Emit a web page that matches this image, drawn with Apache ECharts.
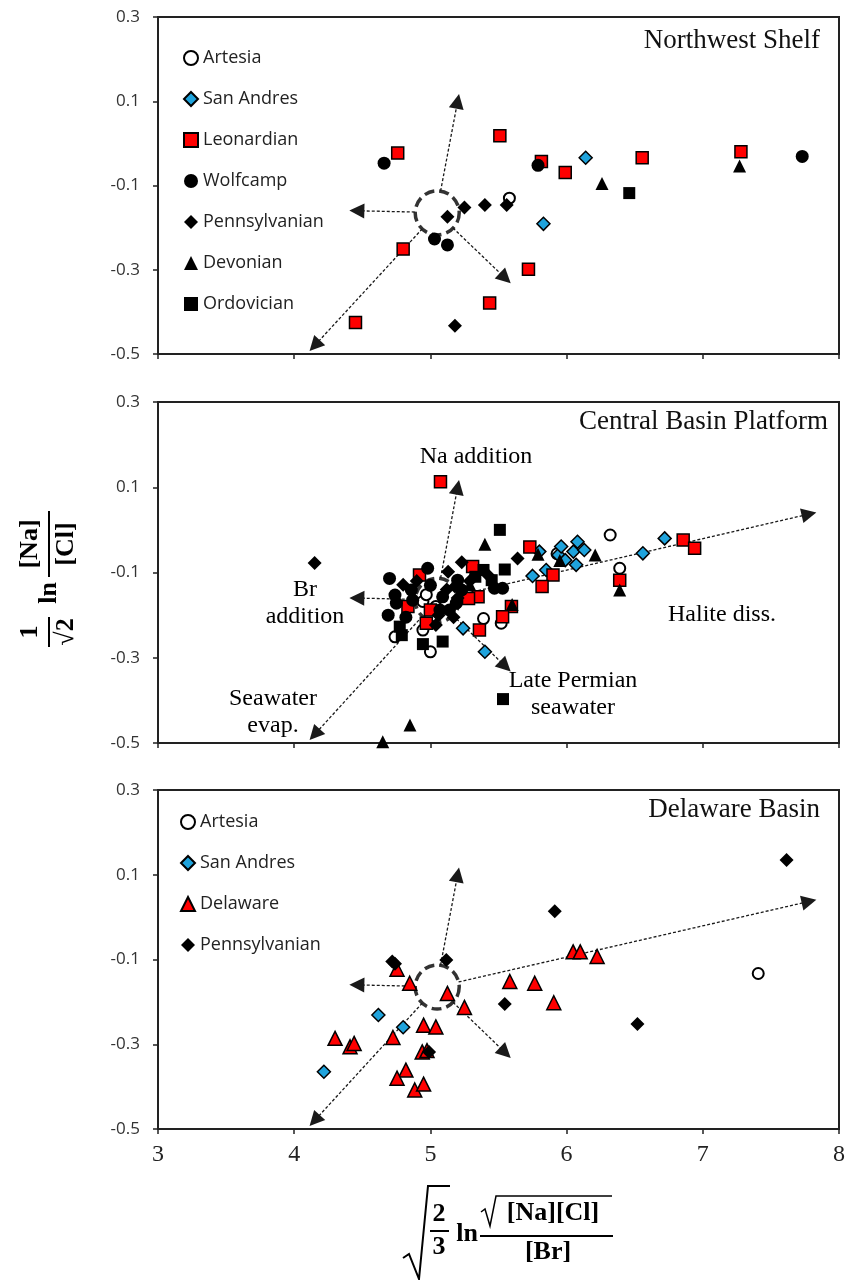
<!DOCTYPE html>
<html>
<head>
<meta charset="utf-8">
<script src="https://cdn.jsdelivr.net/npm/echarts@6.0.0/dist/echarts.min.js"></script>
<style>
  html, body { margin: 0; padding: 0; background: #fff; }
  #chart { width: 857px; height: 1280px; }
</style>
</head>
<body>
<div id="chart"></div>
<script>
// Northwest Shelf
const nwArtesia = [[5.58, -0.13]]
const nwSanAndres = [[6.14, -0.034], [5.83, -0.191]]
const nwLeonardian = [[4.76, -0.023], [5.51, 0.018], [5.815, -0.043], [5.99, -0.069], [6.555, -0.034], [7.28, -0.02], [4.80, -0.251], [5.72, -0.299], [5.435, -0.379], [4.45, -0.425]]
const nwWolfcamp = [[4.66, -0.047], [5.79, -0.052], [5.03, -0.227], [5.125, -0.241], [7.73, -0.031]]
const nwPennsylvanian = [[5.125, -0.174], [5.25, -0.152], [5.40, -0.146], [5.56, -0.146], [5.18, -0.433]]
const nwDevonian = [[6.26, -0.095], [7.27, -0.054]]
const nwOrdovician = [[6.46, -0.118]]

// Central Basin Platform
const cbArtesia = [[4.74, -0.251], [4.945, -0.235], [5.0, -0.286], [4.945, -0.168], [4.97, -0.152], [5.39, -0.208], [5.52, -0.219], [5.93, -0.056], [6.32, -0.012], [6.39, -0.09], [5.04, -0.18]]
const cbSanAndres = [[5.24, -0.231], [5.40, -0.286], [5.75, -0.108], [5.85, -0.094], [5.80, -0.051], [5.94, -0.059], [5.96, -0.039], [5.99, -0.071], [6.05, -0.051], [6.08, -0.028], [6.13, -0.047], [6.07, -0.082], [6.56, -0.055], [6.72, -0.02]]
const cbLeonardian = [[5.074, 0.113], [4.92, -0.106], [4.835, -0.18], [5.0, -0.188], [4.97, -0.219], [5.31, -0.086], [5.35, -0.157], [5.28, -0.161], [5.36, -0.235], [5.595, -0.18], [5.53, -0.204], [5.73, -0.04], [5.90, -0.106], [5.82, -0.133], [6.39, -0.118], [6.856, -0.024], [6.94, -0.043]]
const cbWolfcamp = [[4.70, -0.114], [4.98, -0.09], [4.74, -0.153], [4.75, -0.172], [4.69, -0.2], [4.86, -0.141], [4.87, -0.165], [5.09, -0.157], [5.07, -0.188], [5.14, -0.188], [5.2, -0.118], [5.23, -0.141], [5.47, -0.137], [5.53, -0.137], [5.19, -0.172], [4.82, -0.205], [5.0, -0.13]]
const cbPennsylvanian = [[4.15, -0.078], [4.80, -0.129], [5.13, -0.098], [5.23, -0.076], [5.29, -0.12], [5.18, -0.133], [5.04, -0.223], [5.06, -0.2], [5.64, -0.067], [5.2, -0.16], [4.9, -0.12], [5.12, -0.14], [5.42, -0.105], [5.17, -0.205]]
const cbDevonian = [[5.40, -0.034], [5.29, -0.129], [5.79, -0.057], [5.95, -0.072], [6.21, -0.059], [6.39, -0.141], [5.6, -0.175], [4.85, -0.458], [4.65, -0.497]]
const cbOrdovician = [[5.51, 0.0], [5.39, -0.094], [5.546, -0.093], [5.45, -0.118], [5.33, -0.11], [4.775, -0.227], [4.79, -0.247], [4.945, -0.268], [5.09, -0.262], [5.533, -0.397]]

// Delaware Basin
const dbArtesia = [[7.407, -0.133]]
const dbSanAndres = [[4.618, -0.231], [4.80, -0.26], [4.218, -0.365]]
const dbDelaware = [[4.755, -0.123], [4.848, -0.156], [5.125, -0.18], [5.25, -0.213], [4.95, -0.255], [5.04, -0.259], [4.725, -0.284], [4.30, -0.286], [4.41, -0.306], [4.44, -0.298], [4.94, -0.318], [4.975, -0.315], [4.82, -0.361], [4.755, -0.38], [4.885, -0.408], [4.95, -0.394], [6.048, -0.082], [6.10, -0.082], [6.224, -0.093], [5.583, -0.152], [5.766, -0.156], [5.906, -0.202]]
const dbPennsylvanian = [[4.72, -0.105], [4.74, -0.11], [5.117, -0.101], [4.99, -0.318], [5.913, 0.014], [7.615, 0.135], [5.546, -0.205], [6.52, -0.252]]

// reference point (dashed circle) and process arrows, data units
const refPoint = [5.05, -0.165]
const arrowsBasic = [
  [[5.075, -0.113], [5.2, 0.10]],
  [[4.885, -0.163], [4.46, -0.16]],
  [[4.94, -0.203], [4.15, -0.48]],
  [[5.166, -0.201], [5.55, -0.32]]
]
const arrowHalite = [[5.207, -0.153], [7.78, 0.037]]

const panelTitles = ['Northwest Shelf', 'Central Basin Platform', 'Delaware Basin']
const legendTop = ['Artesia', 'San Andres', 'Leonardian', 'Wolfcamp', 'Pennsylvanian', 'Devonian', 'Ordovician']
const legendBottom = ['Artesia', 'San Andres', 'Delaware', 'Pennsylvanian']

const serif = '"Liberation Serif", "DejaVu Serif", serif'
const sans = '"Open Sans", "Noto Sans", sans-serif'

const markStyle = {
  'Artesia': { symbol: 'circle', size: 11, color: '#fff', border: '#000', bw: 2 },
  'San Andres': { symbol: 'diamond', size: 13, color: '#1fa3dc', border: '#000', bw: 1.5 },
  'Leonardian': { symbol: 'rect', size: 12, color: '#ff0000', border: '#000', bw: 1.5 },
  'Wolfcamp': { symbol: 'circle', size: 13, color: '#000', border: '#000', bw: 0 },
  'Pennsylvanian': { symbol: 'diamond', size: 14, color: '#000', border: '#000', bw: 0 },
  'Devonian': { symbol: 'triangle', size: 13, color: '#000', border: '#000', bw: 0 },
  'Ordovician': { symbol: 'rect', size: 12, color: '#000', border: '#000', bw: 0 },
  'Delaware': { symbol: 'triangle', size: 14, color: '#ff0000', border: '#000', bw: 1.5 }
}

const scatter = (name, data, gi) => {
  const s = markStyle[name]
  return {
    name, type: 'scatter', xAxisIndex: gi, yAxisIndex: gi, data,
    symbol: s.symbol, symbolSize: s.size, z: 3,
    itemStyle: { color: s.color, borderColor: s.border, borderWidth: s.bw, opacity: 1 },
    emphasis: { disabled: true }
  }
}

const refCircle = (gi) => ({
  type: 'scatter', xAxisIndex: gi, yAxisIndex: gi, data: [refPoint],
  symbol: 'circle', symbolSize: 44, silent: true, z: 1,
  itemStyle: { color: 'rgba(0,0,0,0)', borderColor: '#000', borderWidth: 3.5, borderType: [10, 5] }
})

const arrows = (gi, list) => ({
  type: 'lines', coordinateSystem: 'cartesian2d', xAxisIndex: gi, yAxisIndex: gi,
  symbol: ['none', 'triangle'], symbolSize: 15, silent: true, z: 2,
  lineStyle: { color: '#1a1a1a', width: 1.3, type: [3, 2], opacity: 1 },
  data: list.map(c => ({ coords: c }))
})

const grids = [
  { left: 158, top: 17, width: 681, height: 337 },
  { left: 158, top: 402, width: 681, height: 341 },
  { left: 158, top: 790, width: 681, height: 339 }
].map(g => Object.assign(g, { show: true, borderColor: '#222', borderWidth: 2, containLabel: false }))

const xAxes = [0, 1, 2].map(i => ({
  gridIndex: i, type: 'value', min: 3, max: 8, interval: 1,
  axisLine: { show: true, onZero: false, lineStyle: { color: '#222', width: 2 } },
  axisTick: { show: true, length: 5, lineStyle: { color: '#222', width: 1.5 } },
  axisLabel: { show: i === 2, margin: 14, fontFamily: serif, fontSize: 24, color: '#222' },
  splitLine: { show: false }
}))

const yAxes = [0, 1, 2].map(i => ({
  gridIndex: i, type: 'value', min: -0.5, max: 0.3, interval: 0.2,
  axisLine: { show: true, onZero: false, lineStyle: { color: '#222', width: 2 } },
  axisTick: { show: true, length: 5, lineStyle: { color: '#222', width: 1.5 } },
  axisLabel: { margin: 18, fontFamily: sans, fontSize: 17, color: '#333',
    formatter: v => (Math.round(v * 10) / 10).toString() },
  splitLine: { show: false }
}))

const txt = (x, y, text, font, va) => ({
  type: 'text', x, y, silent: true,
  style: { text, font, fill: '#000', textAlign: 'center', textVerticalAlign: va || 'middle', align: 'center', verticalAlign: va || 'middle', lineHeight: 27 }
})
const bar = (x1, y1, x2, y2) => ({
  type: 'line', silent: true, shape: { x1, y1, x2, y2 }, style: { stroke: '#000', lineWidth: 2 }
})

const noteFont = '24px ' + serif
const mathFont = 'bold 26px ' + serif

const chart = echarts.init(document.getElementById('chart'))
chart.setOption({
  animation: false,
  backgroundColor: '#fff',
  title: [
    { text: panelTitles[0], right: 37, top: 27, padding: 0 },
    { text: panelTitles[1], right: 29, top: 408, padding: 0 },
    { text: panelTitles[2], right: 37, top: 796, padding: 0 }
  ].map(t => Object.assign(t, { textStyle: { fontFamily: serif, fontSize: 27, fontWeight: 'normal', color: '#111' } })),
  legend: [
    { data: legendTop, left: 183, top: 49 },
    { data: legendBottom, left: 180, top: 813 }
  ].map(l => Object.assign(l, {
    orient: 'vertical', itemWidth: 14, itemHeight: 14, itemGap: 23, padding: 0, selectedMode: false,
    textStyle: { fontFamily: sans, fontSize: 18, color: '#222', lineHeight: 18 }
  })),
  grid: grids,
  xAxis: xAxes,
  yAxis: yAxes,
  graphic: [
    txt(476, 457, 'Na addition', noteFont),
    txt(305, 603, 'Br\naddition', noteFont),
    txt(273, 712, 'Seawater\nevap.', noteFont),
    txt(573, 694, 'Late Permian\nseawater', noteFont),
    txt(722, 615, 'Halite diss.', noteFont),
    // y-axis formula: 1/sqrt2 ln [Na]/[Cl]
    {
      type: 'group', x: 49, y: 580, rotation: Math.PI / 2,
      children: [
        txt(-52, -5, '1', mathFont, 'bottom'),
        bar(-67, 0, -37, 0),
        txt(-52, 4, '√2', mathFont, 'top'),
        txt(-13, 0, 'ln', mathFont),
        txt(36, -5, '[Na]', mathFont, 'bottom'),
        bar(3, 0, 69, 0),
        txt(36, 4, '[Cl]', mathFont, 'top')
      ]
    },
    // x-axis formula: sqrt(2/3) ln sqrt([Na][Cl])/[Br]
    {
      type: 'group', x: 0, y: 0,
      children: [
        { type: 'polyline', silent: true, shape: { points: [[403, 1258], [409, 1254], [419, 1279], [428, 1186], [450, 1186]] }, style: { stroke: '#000', lineWidth: 2, fill: null } },
        txt(439, 1228, '2', mathFont, 'bottom'),
        bar(430, 1231, 449, 1231),
        txt(439, 1234, '3', mathFont, 'top'),
        txt(467, 1234, 'ln', mathFont),
        { type: 'polyline', silent: true, shape: { points: [[481, 1212], [485, 1209], [490, 1226], [496, 1196], [612, 1196]] }, style: { stroke: '#000', lineWidth: 1.5, fill: null } },
        txt(553, 1213, '[Na][Cl]', mathFont),
        bar(480, 1236, 613, 1236),
        txt(548, 1239, '[Br]', mathFont, 'top')
      ]
    }
  ],
  series: [
    refCircle(0), refCircle(1), refCircle(2),
    arrows(0, arrowsBasic),
    arrows(1, arrowsBasic.concat([arrowHalite])),
    arrows(2, arrowsBasic.concat([arrowHalite])),
    scatter('Artesia', nwArtesia, 0),
    scatter('San Andres', nwSanAndres, 0),
    scatter('Leonardian', nwLeonardian, 0),
    scatter('Wolfcamp', nwWolfcamp, 0),
    scatter('Pennsylvanian', nwPennsylvanian, 0),
    scatter('Devonian', nwDevonian, 0),
    scatter('Ordovician', nwOrdovician, 0),
    scatter('Artesia', cbArtesia, 1),
    scatter('San Andres', cbSanAndres, 1),
    scatter('Leonardian', cbLeonardian, 1),
    scatter('Wolfcamp', cbWolfcamp, 1),
    scatter('Pennsylvanian', cbPennsylvanian, 1),
    scatter('Devonian', cbDevonian, 1),
    scatter('Ordovician', cbOrdovician, 1),
    scatter('Artesia', dbArtesia, 2),
    scatter('San Andres', dbSanAndres, 2),
    scatter('Delaware', dbDelaware, 2),
    scatter('Pennsylvanian', dbPennsylvanian, 2)
  ]
})
</script>
</body>
</html>
